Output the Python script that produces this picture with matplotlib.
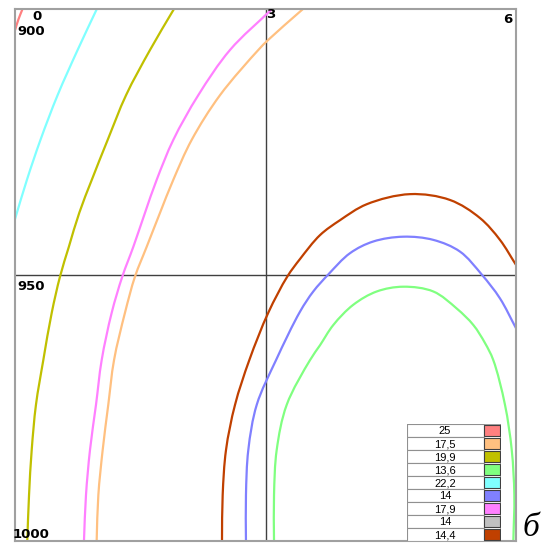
import matplotlib.pyplot as plt
import matplotlib.patches as patches
from matplotlib.path import Path
import numpy as np

# Isolines (x: 0..6, y: depth 900..1000)
red_x = [0.0, 0.04, 0.09]
red_y = [904, 902, 900]

cyan_x = [0.98, 0.75, 0.51, 0.305, 0.143, 0.0]
cyan_y = [900, 907.7, 916.2, 924.6, 932.1, 939.5]

olive_x = [1.904, 1.617, 1.33, 1.11, 0.92, 0.77, 0.645, 0.539, 0.44, 0.339, 0.251, 0.20, 0.168, 0.147]
olive_y = [900, 907.7, 916.2, 924.6, 932.1, 938.3, 944.7, 950.3, 957.1, 966.0, 974.4, 982.9, 991.4, 1000]

magenta_x = [3.078, 2.575, 2.195, 1.896, 1.697, 1.557, 1.417, 1.285, 1.158, 1.038, 0.970, 0.898, 0.850, 0.826]
magenta_y = [900, 907.7, 916.2, 924.6, 932.1, 938.3, 944.7, 950.3, 957.1, 966.0, 974.4, 982.9, 991.4, 1000]

orange_x = [3.449, 3.033, 2.914, 2.455, 2.116, 1.896, 1.737, 1.577, 1.437, 1.317, 1.186, 1.117, 1.050, 0.998, 0.978]
orange_y = [900, 905.8, 907.7, 916.2, 924.6, 932.1, 938.3, 944.7, 950.3, 957.1, 966.0, 974.4, 982.9, 991.4, 1000]

brown_x = [2.479, 2.487, 2.527, 2.635, 2.806, 3.033, 3.261, 3.413, 3.653, 3.892, 4.212, 4.731,
           5.210, 5.569, 5.808, 6.0]
brown_y = [1000, 991.4, 982.9, 974.4, 966.0, 957.1, 950.3, 947.0, 942.5, 939.7, 936.7, 934.8,
           935.9, 939.3, 943.4, 948.1]

blue_x = [2.766, 2.766, 2.794, 2.895, 3.126, 3.413, 3.572, 3.752, 4.012, 4.291, 4.650, 5.010,
          5.329, 5.589, 5.808, 6.0]
blue_y = [1000, 991.4, 982.9, 974.4, 966.0, 956.9, 953.1, 949.9, 945.9, 943.7, 942.8, 943.4,
          945.6, 949.9, 954.4, 960.0]

green_x = [3.102, 3.102, 3.134, 3.254, 3.533, 3.653, 3.812, 4.051, 4.332, 4.650, 5.010, 5.290,
           5.489, 5.629, 5.728, 5.868, 5.949, 5.980, 5.968]
green_y = [1000, 991.4, 982.9, 974.4, 966.0, 963.2, 959.4, 955.6, 953.1, 952.2, 953.1, 956.3,
           959.4, 962.8, 966.0, 974.4, 982.9, 991.4, 1000]

legend_labels = ['25', '17,5', '19,9', '13,6', '22,2', '14', '17,9', '14', '14,4']
legend_colors = ['#ff8080', '#ffc080', '#c0c000', '#80ff80', '#80ffff',
                 '#8080ff', '#ff80ff', '#c0c0c0', '#c04000']

# rough pixel size of one data unit, so the smoothing works in screen-like space
SX, SY = 83.5, 5.32


def smooth_path(xs, ys, a=0.5):
    # centripetal Catmull-Rom through the read points, as cubic Bezier segments
    P = np.column_stack([np.array(xs) * SX, np.array(ys) * SY])
    P = np.vstack([2 * P[0] - P[1], P, 2 * P[-1] - P[-2]])
    verts = [P[1]]
    codes = [Path.MOVETO]
    for i in range(1, len(P) - 2):
        p0, p1, p2, p3 = P[i - 1], P[i], P[i + 1], P[i + 2]
        d1 = np.linalg.norm(p1 - p0) ** a
        d2 = np.linalg.norm(p2 - p1) ** a
        d3 = np.linalg.norm(p3 - p2) ** a
        b1 = (d1 ** 2 * p2 - d2 ** 2 * p0 + (2 * d1 ** 2 + 3 * d1 * d2 + d2 ** 2) * p1) / (3 * d1 * (d1 + d2))
        b2 = (d3 ** 2 * p1 - d2 ** 2 * p3 + (2 * d3 ** 2 + 3 * d3 * d2 + d2 ** 2) * p2) / (3 * d3 * (d3 + d2))
        verts += [b1, b2, p2]
        codes += [Path.CURVE4] * 3
    verts = np.array(verts) / [SX, SY]
    return Path(verts, codes)


fig = plt.figure(figsize=(5.5, 5.46), dpi=100, facecolor='white')
ax = fig.add_axes([15 / 550, 5 / 546, 501 / 550, 532 / 546])

ax.set_xlim(0, 6)
ax.set_ylim(1000, 900)
ax.set_xticks([])
ax.set_yticks([])
for s in ax.spines.values():
    s.set_color('#a0a0a0')
    s.set_linewidth(1.5)

ax.axvline(3, color='#404040', lw=1, zorder=1)
ax.axhline(950, color='#404040', lw=1, zorder=1)

curves = [
    (red_x, red_y, '#ff8080'),
    (cyan_x, cyan_y, '#80ffff'),
    (olive_x, olive_y, '#c0c000'),
    (magenta_x, magenta_y, '#ff80ff'),
    (orange_x, orange_y, '#ffc080'),
    (brown_x, brown_y, '#c04000'),
    (blue_x, blue_y, '#8080ff'),
    (green_x, green_y, '#80ff80'),
]
for xs, ys, c in curves:
    ax.add_patch(patches.PathPatch(smooth_path(xs, ys), fill=False, edgecolor=c,
                                   lw=1.6, zorder=2))

# corner labels
lab = dict(fontsize=9.5, fontweight='bold', color='black', zorder=5)
ax.text(0.044, 0.985, '0', transform=ax.transAxes, ha='center', va='center', **lab)
ax.text(0.004, 0.957, '900', transform=ax.transAxes, ha='left', va='center', **lab)
ax.text(0.511, 0.99, '3', transform=ax.transAxes, ha='center', va='center', **lab)
ax.text(0.992, 0.981, '6', transform=ax.transAxes, ha='right', va='center', **lab)
ax.text(0.004, 0.478, '950', transform=ax.transAxes, ha='left', va='center', **lab)
ax.text(-0.004, 0.013, '1000', transform=ax.transAxes, ha='left', va='center', **lab)

# legend table
lax = fig.add_axes([406.5 / 550, 5 / 546, 94 / 550, 117 / 546])
lax.set_xlim(0, 94)
lax.set_ylim(len(legend_labels), 0)
lax.axis('off')
lax.add_patch(patches.Rectangle((0, 0), 94, len(legend_labels), facecolor='white',
                                edgecolor='#909090', lw=1.2))
for i, (t, c) in enumerate(zip(legend_labels, legend_colors)):
    lax.add_patch(patches.Rectangle((0, i), 77, 1, facecolor='white',
                                    edgecolor='#909090', lw=0.8))
    lax.add_patch(patches.Rectangle((77.5, i + 0.08), 16, 0.84, facecolor=c,
                                    edgecolor='#404040', lw=0.8))
    lax.text(38.5, i + 0.55, t, ha='center', va='center', fontsize=8,
             family='Liberation Sans', color='black')

fig.text(531 / 550, 1 - 528 / 546, 'б', fontsize=24, style='italic',
         family='Liberation Serif', ha='center', va='center')

plt.savefig('out.png', dpi=100, facecolor='white')
plt.close()
